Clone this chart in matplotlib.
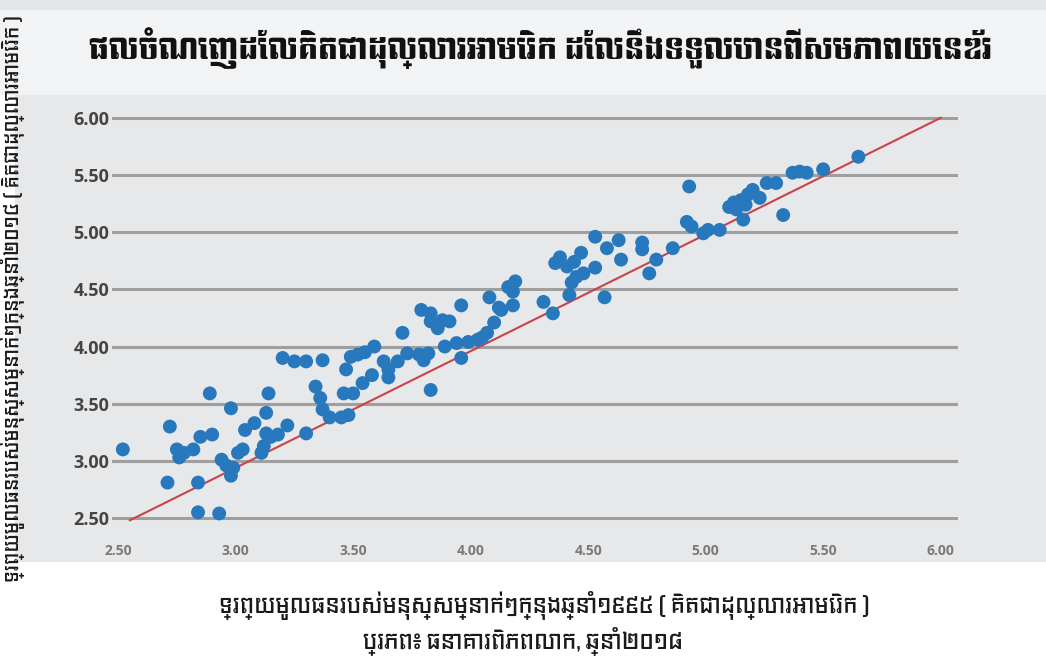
import matplotlib
matplotlib.use("Agg")
import matplotlib.pyplot as plt
from matplotlib.patches import Rectangle

# values (log-scale style units shown on both axes)
wealth_1995 = [
    2.52, 2.71, 2.72, 2.75, 2.76, 2.78, 2.82, 2.84, 2.84, 2.85,
    2.90, 2.89, 2.93, 2.94, 2.96, 2.99, 2.98, 2.98, 3.01, 3.03,
    3.04, 3.08, 3.11, 3.12, 3.13, 3.15, 3.13, 3.14, 3.18, 3.22,
    3.30, 3.20, 3.25, 3.30, 3.37, 3.34, 3.36, 3.37, 3.40, 3.45,
    3.46, 3.50, 3.48, 3.47, 3.49, 3.52, 3.55, 3.59, 3.54, 3.58,
    3.63, 3.65, 3.65, 3.69, 3.71, 3.73, 3.78, 3.80, 3.82, 3.83,
    3.79, 3.83, 3.83, 3.86, 3.88, 3.91, 3.96, 3.89, 3.94, 3.99,
    4.03, 4.05, 4.07, 4.10, 3.96, 4.08, 4.12, 4.18, 4.18, 4.16,
    4.19, 4.13, 4.31, 4.35, 4.36, 4.38, 4.41, 4.44, 4.47, 4.45,
    4.48, 4.43, 4.42, 4.53, 4.53, 4.58, 4.63, 4.64, 4.57, 4.73,
    4.73, 4.76, 4.79, 4.86, 4.92, 4.94, 4.93, 4.99, 5.01, 5.06,
    5.10, 5.12, 5.15, 5.18, 5.20, 5.23, 5.16, 5.26, 5.30, 5.33,
    5.37, 5.40, 5.43, 5.50, 5.65, 5.13, 5.17,
]
wealth_2014 = [
    3.10, 2.81, 3.30, 3.10, 3.03, 3.07, 3.10, 2.81, 2.55, 3.21,
    3.23, 3.59, 2.54, 3.01, 2.96, 2.94, 2.87, 3.46, 3.07, 3.10,
    3.27, 3.33, 3.07, 3.13, 3.24, 3.21, 3.42, 3.59, 3.23, 3.31,
    3.24, 3.90, 3.87, 3.87, 3.88, 3.65, 3.55, 3.45, 3.38, 3.38,
    3.59, 3.59, 3.40, 3.80, 3.91, 3.93, 3.95, 4.00, 3.68, 3.75,
    3.87, 3.80, 3.73, 3.87, 4.12, 3.94, 3.93, 3.88, 3.94, 3.62,
    4.32, 4.29, 4.22, 4.16, 4.23, 4.22, 4.36, 4.00, 4.03, 4.04,
    4.06, 4.08, 4.12, 4.21, 3.90, 4.43, 4.34, 4.36, 4.48, 4.52,
    4.57, 4.32, 4.39, 4.29, 4.73, 4.78, 4.70, 4.74, 4.82, 4.61,
    4.64, 4.56, 4.45, 4.96, 4.69, 4.86, 4.93, 4.76, 4.43, 4.91,
    4.85, 4.64, 4.76, 4.86, 5.09, 5.05, 5.40, 4.99, 5.02, 5.02,
    5.22, 5.26, 5.28, 5.33, 5.37, 5.30, 5.11, 5.43, 5.43, 5.15,
    5.52, 5.53, 5.52, 5.55, 5.66, 5.20, 5.24,
]
# 45 degree reference line drawn by the source
ref_x = [2.55, 6.00]
ref_y = [2.48, 6.00]

x_ticks = [2.5, 3.0, 3.5, 4.0, 4.5, 5.0, 5.5, 6.0]
y_ticks = [2.5, 3.0, 3.5, 4.0, 4.5, 5.0, 5.5, 6.0]

title = "ផលចំណេញដែលគិតជាដុល្លារអាមេរិក ដែលនឹងទទួលបានពីសមភាពយេនឌ័រ"
x_label = "ទ្រព្យមូលធនរបស់មនុស្សម្នាក់ៗក្នុងឆ្នាំ១៩៩៥ ( គិតជាដុល្លារអាមេរិក )"
y_label = "ទ្រព្យមូលធនរបស់មនុស្សម្នាក់ៗក្នុងឆ្នាំ២០១៤ ( គិតជាដុល្លារអាមេរិក )"
source = "ប្រភព៖ ធនាគារពិភពលោក, ឆ្នាំ២០១៨"

TITLE_FONT = ["Angkor", "DejaVu Sans"]
LABEL_FONT = ["Kdam Thmor Pro", "DejaVu Sans"]
TICK_FONT = ["Open Sans", "DejaVu Sans"]

PANEL = "#e7e8ea"
BAND = "#f2f3f5"
DOT = "#2878bd"

fig = plt.figure(figsize=(10.46, 6.56), dpi=100)

# background blocks: title band and the grey chart panel (behind the axes)
for xy, w, h, col in [((0, 0.855), 1, 0.13, BAND),
                      ((0, 0.985), 1, 0.015, "#e4e5e7"),
                      ((0.014, 0.143), 0.986, 0.712, PANEL)]:
    fig.patches.append(Rectangle(xy, w, h, transform=fig.transFigure,
                                 facecolor=col, edgecolor="none", zorder=-10))

ax = fig.add_axes([0.1071, 0.1997, 0.8088, 0.648], zorder=1)
ax.patch.set_alpha(0)

ax.plot(ref_x, ref_y, color="#cc424a", lw=1.5, zorder=2)
ax.scatter(wealth_1995, wealth_2014, s=100, color=DOT, edgecolors="none", zorder=3)

ax.set_xlim(2.474, 6.074)
ax.set_ylim(2.439, 6.157)
ax.set_xticks(x_ticks)
ax.set_yticks(y_ticks)
ax.set_xticklabels([f"{v:.2f}" for v in x_ticks], family=TICK_FONT, fontsize=10,
                   fontweight="bold", color="#7a7a7a")
ax.set_yticklabels([f"{v:.2f}" for v in y_ticks], family=TICK_FONT, fontsize=13,
                   fontweight="bold", color="#444444")
ax.tick_params(axis="both", length=0)
ax.tick_params(axis="x", pad=14)
ax.tick_params(axis="y", pad=2)
ax.yaxis.grid(True, color="#9f9f9f", lw=2.2, zorder=1)
ax.xaxis.grid(False)
ax.set_axisbelow(True)
for spine in ax.spines.values():
    spine.set_visible(False)

fig.text(0.517, 0.926, title, family=TITLE_FONT, fontsize=21, ha="center",
         va="center", color="#111111")
fig.text(0.52, 0.077, x_label, family=LABEL_FONT, fontsize=15, ha="center",
         va="center", color="#1a1a1a")
fig.text(0.50, 0.024, source, family=LABEL_FONT, fontsize=15, ha="center",
         va="center", color="#1a1a1a")
fig.text(0.012, 0.545, y_label, family=LABEL_FONT, fontsize=13, rotation=90,
         ha="center", va="center", color="#1a1a1a")

fig.savefig("out.png", dpi=100)
